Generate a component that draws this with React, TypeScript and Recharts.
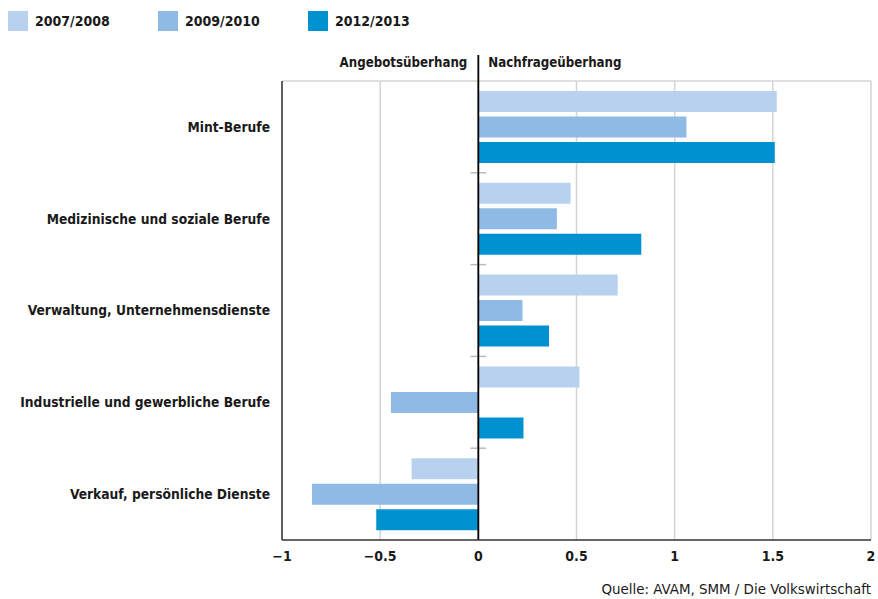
import React from 'react';
import { BarChart, Bar, XAxis, YAxis, CartesianGrid, ReferenceLine, ReferenceArea, Legend } from 'recharts';

const categories = [
  'Mint-Berufe',
  'Medizinische und soziale Berufe',
  'Verwaltung, Unternehmensdienste',
  'Industrielle und gewerbliche Berufe',
  'Verkauf, persönliche Dienste',
];
const s2007 = [1.52, 0.47, 0.71, 0.515, -0.34];
const s2009 = [1.06, 0.40, 0.225, -0.445, -0.847];
const s2012 = [1.51, 0.83, 0.36, 0.23, -0.52];
const seriesNames = ['2007/2008', '2009/2010', '2012/2013'];
const seriesKeys = ['s2007', 's2009', 's2012'];
const seriesColors = ['#b8d1ee', '#8fbae5', '#0092d0'];
const xTicks = [-1, -0.5, 0, 0.5, 1, 1.5, 2];
const separatorCats = categories.slice(0, 4);
const headerLeft = 'Angebotsüberhang';
const headerRight = 'Nachfrageüberhang';
const source = 'Quelle: AVAM, SMM / Die Volkswirtschaft';

const data = categories.map((c, i) => ({
  cat: c,
  s2007: s2007[i],
  s2009: s2009[i],
  s2012: s2012[i],
}));

const FONT = '"DejaVu Sans Condensed", "DejaVu Sans", sans-serif';

const fmt = (v: number) => (v < 0 ? '\u2212' + String(-v) : String(v));

const LegendContent = () => (
  <div style={{ display: 'flex', height: 40, alignItems: 'flex-start' }}>
    {seriesNames.map((n, i) => (
      <div key={n} style={{ width: 150, display: 'flex', alignItems: 'center', marginTop: 11, paddingLeft: 8, boxSizing: 'border-box' }}>
        <div style={{ width: 20, height: 20, background: seriesColors[i] }} />
        <span style={{ marginLeft: 7, fontSize: 14, fontWeight: 'bold', color: '#1a1a1a' }}>{n}</span>
      </div>
    ))}
  </div>
);

const HeaderLabel = (props: any) => {
  const vb = props.viewBox || {};
  const x = vb.x;
  const y = vb.y;
  return (
    <g>
      <line x1={x} x2={x} y1={y - 26} y2={y} stroke="#000" strokeWidth={1.8} />
      <text x={x - 11} y={y - 14} textAnchor="end" fontSize={13.2} fontWeight="bold" fill="#1a1a1a" fontFamily={FONT}>
        {headerLeft}
      </text>
      <text x={x + 10} y={y - 14} textAnchor="start" fontSize={13.2} fontWeight="bold" fill="#1a1a1a" fontFamily={FONT}>
        {headerRight}
      </text>
    </g>
  );
};

const SeparatorShape = (props: any) => {
  const { x, y, width, height } = props;
  if (x == null || y == null) return null;
  return <line x1={x} x2={x + width} y1={y + height} y2={y + height} stroke="#bbbbbb" strokeWidth={1.5} />;
};

export default function App() {
  return (
    <div style={{ position: 'absolute', left: 0, top: 0, width: 878, height: 599, fontFamily: FONT, background: '#fff' }}>
      <BarChart
        width={878}
        height={599}
        data={data}
        layout="vertical"
        margin={{ top: 41, right: 7, bottom: 29, left: 0 }}
        barCategoryGap={10}
        barGap={4.5}
      >
        <Legend verticalAlign="top" align="left" wrapperStyle={{ top: 0, left: 0 }} content={<LegendContent />} />
        <CartesianGrid
          horizontal={true}
          vertical={true}
          stroke="#d4d4d4"
          strokeWidth={1.5}
          horizontalCoordinatesGenerator={(p: any) => [p.offset.top]}
        />
        <XAxis
          type="number"
          domain={[-1, 2]}
          ticks={xTicks}
          tickFormatter={fmt}
          axisLine={{ stroke: '#333', strokeWidth: 1.5 }}
          tickLine={false}
          tickSize={0}
          tickMargin={11}
          height={30}
          tick={{ fontSize: 14, fontWeight: 'bold', fill: '#1a1a1a' }}
          interval={0}
        />
        <YAxis
          type="category"
          dataKey="cat"
          width={282}
          axisLine={{ stroke: '#333', strokeWidth: 1.5 }}
          tickLine={false}
          tickSize={0}
          tickMargin={12}
          tick={{ fontSize: 13.7, fontWeight: 'bold', fill: '#1a1a1a' }}
          interval={0}
        />
        {seriesKeys.map((k, i) => (
          <Bar key={k} dataKey={k} name={seriesNames[i]} fill={seriesColors[i]} isAnimationActive={false} />
        ))}
        {separatorCats.map((c) => (
          <ReferenceArea
            key={c}
            y1={c}
            y2={c}
            x1={-0.04}
            x2={0.04}
            ifOverflow="visible"
            shape={<SeparatorShape />}
          />
        ))}
        <ReferenceLine x={0} stroke="#000" strokeWidth={1.8} ifOverflow="visible" label={<HeaderLabel />} />
      </BarChart>
      <div style={{ position: 'absolute', right: 7, top: 580, fontSize: 14.9, color: '#1a1a1a', whiteSpace: 'nowrap' }}>
        {source}
      </div>
    </div>
  );
}
